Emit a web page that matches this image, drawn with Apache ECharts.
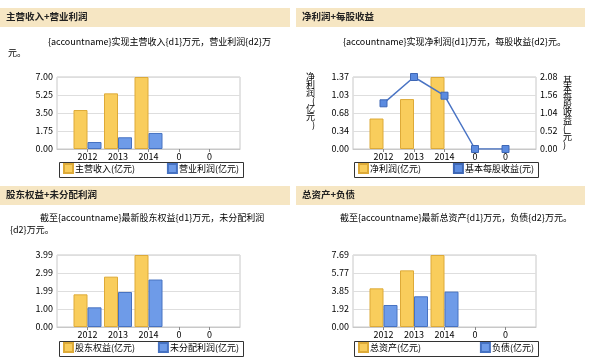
<!DOCTYPE html>
<html>
<head>
<meta charset="utf-8">
<script src="https://cdn.jsdelivr.net/npm/echarts@6/dist/echarts.min.js"></script>
<style>html,body{margin:0;padding:0;background:#fff;}#c{width:600px;height:360px;}</style>
</head>
<body>
<div id="c"></div>
<script>
const years = ['2012', '2013', '2014', '0', '0'];

// Panel 1: 主营收入 + 营业利润
const revenue = [3.79, 5.41, 7.00, 0, 0];
const opProfit = [0.68, 1.14, 1.56, 0, 0];
const p1Ticks = ['0.00', '1.75', '3.50', '5.25', '7.00'];

// Panel 2: 净利润 + 每股收益
const netProfit = [0.58, 0.95, 1.37, 0, 0];
const eps = [1.32, 2.08, 1.54, 0, 0];
const p2LeftTicks = ['0.00', '0.34', '0.68', '1.03', '1.37'];
const p2RightTicks = ['0.00', '0.52', '1.04', '1.56', '2.08'];

// Panel 3: 股东权益 + 未分配利润
const equity = [1.81, 2.79, 3.99, 0, 0];
const undistributed = [1.09, 1.94, 2.63, 0, 0];
const p3Ticks = ['0.00', '1.00', '1.99', '2.99', '3.99'];

// Panel 4: 总资产 + 负债
const assets = [4.13, 6.05, 7.69, 0, 0];
const liabilities = [2.35, 3.28, 3.78, 0, 0];
const p4Ticks = ['0.00', '1.92', '3.85', '5.77', '7.69'];

const FONT = '"Noto Sans CJK SC", "Noto Sans", sans-serif';
const YEL = '#F9CD5C', YEL_B = '#DDAA38';
const BLU = '#6E9BE8', BLU_B = '#4672C2';

const pad = arr => [null].concat(arr, [null]);
const catData = pad(years).map(v => v === null ? '' : v);

function xAxis(gi) {
  return {
    type: 'category', gridIndex: gi, data: catData, boundaryGap: false,
    axisLine: { show: true, lineStyle: { color: '#c8c8c8' } },
    axisTick: { show: true, length: 3, lineStyle: { color: '#888' }, interval: (i, v) => v !== '' },
    axisLabel: { fontSize: 9, color: '#000', margin: 3, fontFamily: FONT, interval: 0 },
    splitLine: { show: false }
  };
}
function yAxis(gi, ticks, pos) {
  const max = parseFloat(ticks[ticks.length - 1]);
  return {
    type: 'value', gridIndex: gi, position: pos || 'left',
    min: 0, max: max, interval: max / (ticks.length - 1),
    axisLine: { show: false }, axisTick: { show: false },
    axisLabel: { fontSize: 9, color: '#000', margin: 4, fontFamily: FONT, formatter: (v, i) => ticks[i] },
    splitLine: { show: pos !== 'right', lineStyle: { color: '#dedede' } }
  };
}
function bar(name, data, xi, yi, c, b) {
  return {
    type: 'bar', name: name, data: pad(data.map(v => v === 0 ? '-' : v)), xAxisIndex: xi, yAxisIndex: yi,
    barWidth: 14, barGap: '0%',
    itemStyle: { color: c, borderColor: b, borderWidth: 1 }
  };
}
function legend(name, pos, top) {
  return Object.assign({
    data: [name], top: top, padding: 0, itemWidth: 9, itemHeight: 9, itemGap: 0,
    icon: 'rect', textStyle: { fontSize: 9, color: '#000', fontFamily: FONT, padding: [0, 0, 0, -3] }
  }, pos);
}
function header(x, y, w, title) {
  return [
    { type: 'rect', left: x, top: y, shape: { width: w, height: 19 }, style: { fill: '#F6E6C3' } },
    { type: 'text', left: x + 6, top: y + 4, style: { text: title, font: 'bold 9.5px ' + FONT, fill: '#222' } }
  ];
}
function txt(x, y, s) {
  return { type: 'text', left: x, top: y, style: { text: s, font: '9px ' + FONT, fill: '#000' } };
}
function box(x, y) {
  return { type: 'rect', left: x, top: y, shape: { width: 184, height: 15 }, style: { fill: 'none', stroke: '#333', lineWidth: 1 }, z: 100 };
}

const gridBase = { show: true, borderColor: '#c8c8c8', borderWidth: 1, backgroundColor: '#fff', width: 183, height: 72 };

const option = {
  animation: false,
  textStyle: { fontFamily: FONT },
  grid: [
    Object.assign({ left: 57, top: 77 }, gridBase),
    Object.assign({ left: 353, top: 77 }, gridBase),
    Object.assign({ left: 57, top: 255 }, gridBase),
    Object.assign({ left: 353, top: 255 }, gridBase)
  ],
  xAxis: [xAxis(0), xAxis(1), xAxis(2), xAxis(3)],
  yAxis: [
    yAxis(0, p1Ticks),
    Object.assign(yAxis(1, p2LeftTicks), {
      name: '净\n利\n润\n(\n亿\n元\n)\n\n\n', nameLocation: 'middle', nameRotate: 0, nameGap: 38,
      nameTextStyle: { fontSize: 9, lineHeight: 8, color: '#000', fontFamily: FONT }
    }),
    Object.assign(yAxis(1, p2RightTicks, 'right'), {
      name: '基\n本\n每\n股\n收\n益\n(\n元\n)', nameLocation: 'middle', nameRotate: 0, nameGap: 27,
      nameTextStyle: { fontSize: 9, lineHeight: 8, color: '#000', fontFamily: FONT }
    }),
    yAxis(2, p3Ticks),
    yAxis(3, p4Ticks)
  ],
  legend: [
    legend('主营收入(亿元)', { left: 63 }, 163),
    legend('营业利润(亿元)', { right: 361 }, 163),
    legend('净利润(亿元)', { left: 358 }, 163),
    legend('基本每股收益(元)', { right: 66 }, 163),
    legend('股东权益(亿元)', { left: 63 }, 342),
    legend('未分配利润(亿元)', { right: 361 }, 342),
    legend('总资产(亿元)', { left: 358 }, 342),
    legend('负债(亿元)', { right: 66 }, 342)
  ],
  series: [
    bar('主营收入(亿元)', revenue, 0, 0, YEL, YEL_B),
    bar('营业利润(亿元)', opProfit, 0, 0, BLU, BLU_B),
    bar('净利润(亿元)', netProfit, 1, 1, YEL, YEL_B),
    { type: 'bar', name: '_slot', data: [], xAxisIndex: 1, yAxisIndex: 1, barWidth: 14, barGap: '0%' },
    {
      type: 'line', name: '基本每股收益(元)', data: pad(eps), xAxisIndex: 1, yAxisIndex: 2,
      symbol: 'rect', symbolSize: 7, showAllSymbol: true,
      lineStyle: { color: '#4A74C4', width: 1.5 },
      itemStyle: { color: '#5B8BE0', borderColor: '#3E67B5', borderWidth: 1 }
    },
    bar('股东权益(亿元)', equity, 2, 3, YEL, YEL_B),
    bar('未分配利润(亿元)', undistributed, 2, 3, BLU, BLU_B),
    bar('总资产(亿元)', assets, 3, 4, YEL, YEL_B),
    bar('负债(亿元)', liabilities, 3, 4, BLU, BLU_B)
  ],
  graphic: [].concat(
    header(0, 8, 290, '主营收入+营业利润'),
    header(296, 8, 289, '净利润+每股收益'),
    header(0, 186, 290, '股东权益+未分配利润'),
    header(296, 186, 289, '总资产+负债'),
    [
      txt(48, 37, '{accountname}实现主营收入{d1}万元，营业利润{d2}万'),
      txt(8, 48, '元。'),
      txt(343, 37, '{accountname}实现净利润{d1}万元，每股收益{d2}元。'),
      txt(40, 213, '截至{accountname}最新股东权益{d1}万元，未分配利润'),
      txt(10, 225, '{d2}万元。'),
      txt(340, 213, '截至{accountname}最新总资产{d1}万元，负债{d2}万元。'),
      box(57, 160), box(352, 160), box(57, 339), box(352, 339)
    ]
  )
};

const chart = echarts.init(document.getElementById('c'), null, { renderer: 'canvas' });
chart.setOption(option);
</script>
</body>
</html>
